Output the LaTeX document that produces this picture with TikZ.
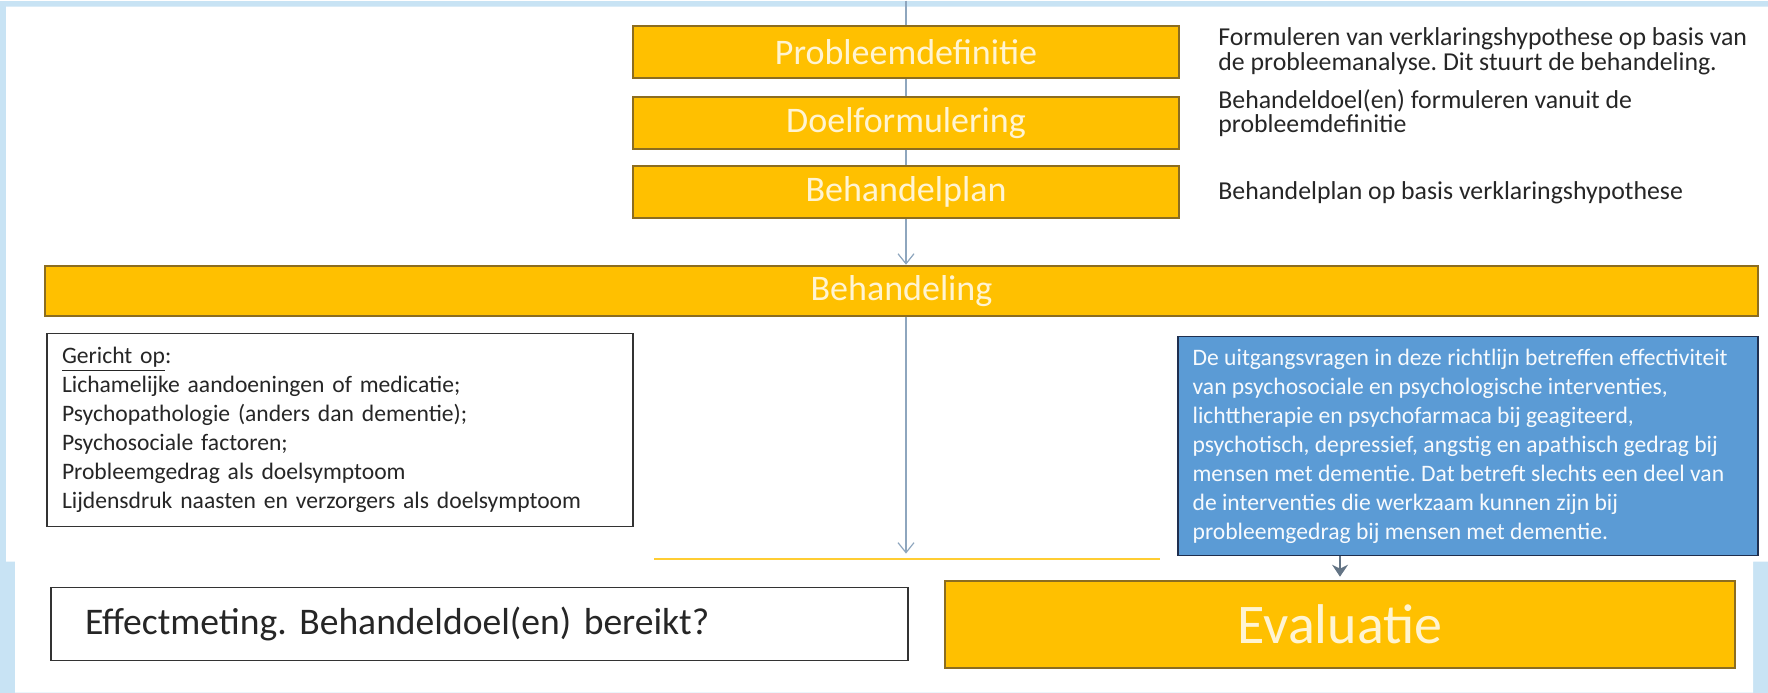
\documentclass[tikz,border=0pt]{standalone}
\usepackage{fontspec}
\setmainfont{Carlito}
\frenchspacing
\usetikzlibrary{arrows.meta,positioning}
\definecolor{lichtblauw}{HTML}{C8E3F4}
\definecolor{goud}{HTML}{FFC000}
\definecolor{goudrand}{HTML}{8C6D20}
\definecolor{room}{HTML}{FFF4D2}
\definecolor{blauw}{HTML}{5B9BD5}
\definecolor{blauwrand}{HTML}{1F2F4F}
\definecolor{lijn}{HTML}{8EA6BE}
\definecolor{tekst}{HTML}{262626}
\begin{document}
\begin{tikzpicture}[x=0.5pt,y=-0.5pt,
	stap/.style={fill=goud,draw=goudrand,line width=0.9pt,inner sep=0pt,text=room,font=\fontsize{18}{18}\selectfont},
	kader/.style={draw=black!80,line width=0.8pt,fill=white,inner sep=0pt,text=tekst},
	pijl/.style={draw=lijn,line width=0.6pt,-{Straight Barb[length=5pt,width=8pt]}},
	uitleg/.style={anchor=west,inner sep=0pt,text=tekst,font=\fontsize{12.9}{15}\selectfont}]
	\fill[lichtblauw] (0,0) rectangle (1768,692);
	\fill[white] (6,6) -- (1768,6) -- (1768,561) -- (1753,561) -- (1753,692) -- (15,692) -- (15,561) -- (6,561) -- cycle;
	\path (906,0) coordinate (top) (906,553) coordinate (eind) (654,558) coordinate (restL) (1160,558) coordinate (restR);
	\draw[goud!80,line width=1pt] (restL) -- (restR);
	% stappen boven
	\foreach \i/\j/\t in {p1/51.5/Probleemdefinitie,p2/122/Doelformulering,p3/191.5/Behandelplan}
		\node[stap,minimum width=273pt,minimum height=26pt] (\i) at (906,\j) {\t};
	\foreach \i/\j/\t in {u1/38/{Formuleren van verklaringshypothese op basis van},u2/63/{de probleemanalyse. Dit stuurt de behandeling.},u3/100/{Behandeldoel(en) formuleren vanuit de},u4/125/{probleemdefinitie},u5/192/{Behandelplan op basis verklaringshypothese}}
		\node[uitleg] (\i) at (1218,\j) {\t};
	\node[stap,minimum width=856.5pt,minimum height=25pt] (bar) at (901.5,290) {Behandeling};
	% kaders onder
	\node[kader,minimum width=293pt,minimum height=96.5pt,inner xsep=7.5pt,text width=278pt,align=left,font=\fontsize{11.8}{14.5}\selectfont] (gericht) at (340,429.5) {\underline{Gericht op}:\\
		Lichamelijke aandoeningen of medicatie;\\
		Psychopathologie (anders dan dementie);\\
		Psychosociale factoren;\\
		Probleemgedrag als doelsymptoom\\
		Lijdensdruk naasten en verzorgers als doelsymptoom};
	\node[kader,fill=blauw,draw=blauwrand,minimum width=290pt,minimum height=109.5pt] (uitgang) at (1468,445.5) {};
	\node[anchor=west,inner sep=0pt,text=white!95!blauw,align=left,font=\fontsize{11.8}{14.5}\selectfont] (uitgangtekst) at ([xshift=7.5pt]uitgang.west) {De uitgangsvragen in deze richtlijn betreffen effectiviteit\\
		van psychosociale en psychologische interventies,\\
		lichttherapie en psychofarmaca bij geagiteerd,\\
		psychotisch, depressief, angstig en apathisch gedrag bij\\
		mensen met dementie. Dat betreft slechts een deel van\\
		de interventies die werkzaam kunnen zijn bij\\
		probleemgedrag bij mensen met dementie.};
	\node[kader,minimum width=428.5pt,minimum height=36.5pt,inner xsep=17pt,text width=394.5pt,align=left,font=\fontsize{18.8}{20}\selectfont] (effect) at (479.5,623.5) {Effectmeting. Behandeldoel(en) bereikt?};
	\node[stap,minimum width=395pt,minimum height=43.5pt,font=\fontsize{28}{30}\selectfont] (eval) at (1340,623.5) {Evaluatie};
	% lijnen
	\draw[lijn,line width=0.6pt] (top) -- (p1) (p1) -- (p2) (p2) -- (p3);
	\draw[pijl] (p3.south) -- (p3.south |- bar.north);
	\draw[pijl] (bar.south -| p3) -- (eind);
	\draw[draw=lijn!70!black,line width=0.6pt,-{Stealth[length=6pt,width=8pt]},shorten >=1.5pt] (uitgang.south -| eval.north) -- (eval.north);
\end{tikzpicture}
\end{document}
